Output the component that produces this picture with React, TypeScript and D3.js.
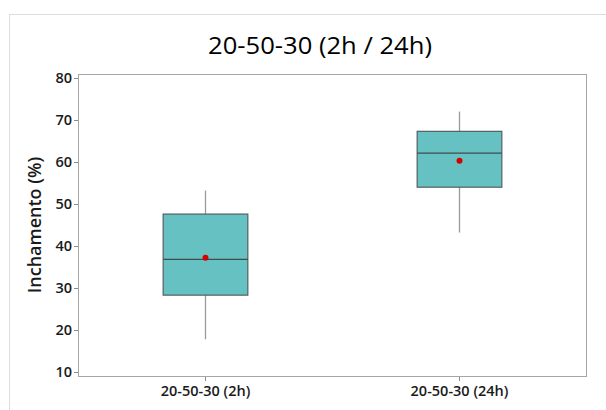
import React from "react";
import * as d3 from "d3";

const categories = ["20-50-30 (2h)", "20-50-30 (24h)"];
const whiskerLow = [17.8, 43.2];
const q1 = [28.3, 54.0];
const median = [36.8, 62.1];
const q3 = [47.6, 67.3];
const whiskerHigh = [53.2, 72.0];
const means = [37.2, 60.3];
const yTicks = [10, 20, 30, 40, 50, 60, 70, 80];

const W = 606;
const H = 410;
const plot = { left: 78, right: 586, top: 74, bottom: 376 };
const font = "'Open Sans', 'Noto Sans', sans-serif";

export default function App() {
  const x = d3
    .scaleBand<string>()
    .domain(categories)
    .range([plot.left, plot.right])
    .paddingInner(0)
    .paddingOuter(0);
  const y = d3
    .scaleLinear()
    .domain([10 - 4 / 4.2, 80 + 4 / 4.2])
    .range([plot.bottom, plot.top]);
  const boxW = x.bandwidth() / 3;

  return (
    <div style={{ position: "fixed", left: 0, top: 0 }}>
      <svg width={W} height={H} style={{ display: "block" }}>
        <rect x={0} y={0} width={W} height={H} fill="#fff" />
        <rect x={9.5} y={14.5} width={W} height={H} fill="none" stroke="#dcdcdc" strokeWidth={1} />
        <text
          x={320}
          y={54}
          textAnchor="middle"
          fontFamily={font}
          fontSize={23.5}
          fontWeight={500}
          fill="#000"
          textLength={224}
          lengthAdjust="spacingAndGlyphs"
        >
          20-50-30 (2h / 24h)
        </text>
        <rect
          x={plot.left + 0.5}
          y={plot.top + 0.5}
          width={plot.right - plot.left}
          height={plot.bottom - plot.top}
          fill="none"
          stroke="#a6a6a6"
          strokeWidth={1}
        />
        {yTicks.map((t) => (
          <g key={t}>
            <line
              x1={plot.left - 4}
              x2={plot.left}
              y1={Math.round(y(t)) + 0.5}
              y2={Math.round(y(t)) + 0.5}
              stroke="#8c8c8c"
            />
            <text
              x={plot.left - 6}
              y={y(t)}
              dy="0.36em"
              textAnchor="end"
              fontFamily={font}
              fontSize={14.5}
              fontWeight={600}
              fill="#1a1a1a"
            >
              {t}
            </text>
          </g>
        ))}
        {categories.map((c, i) => {
          const cx = Math.round(x(c)! + x.bandwidth() / 2) + 0.5;
          return (
            <g key={c}>
              <line x1={cx} x2={cx} y1={plot.bottom + 1} y2={plot.bottom + 5} stroke="#8c8c8c" />
              <text
                x={cx}
                y={396}
                textAnchor="middle"
                fontFamily={font}
                fontSize={14.5}
                fontWeight={600}
                fill="#1a1a1a"
              >
                {c}
              </text>
              <line x1={cx} x2={cx} y1={y(whiskerHigh[i])} y2={y(q3[i])} stroke="#9a9a9a" strokeWidth={1.3} />
              <line x1={cx} x2={cx} y1={y(q1[i])} y2={y(whiskerLow[i])} stroke="#9a9a9a" strokeWidth={1.3} />
              <rect
                x={cx - boxW / 2}
                y={y(q3[i])}
                width={boxW}
                height={y(q1[i]) - y(q3[i])}
                fill="#66c2c2"
                stroke="#525f5f"
                strokeWidth={1.2}
              />
              <line
                x1={cx - boxW / 2}
                x2={cx + boxW / 2}
                y1={y(median[i])}
                y2={y(median[i])}
                stroke="#3f4d4d"
                strokeWidth={1.2}
              />
              <circle cx={cx} cy={y(means[i])} r={3} fill="#d40000" />
            </g>
          );
        })}
        <text
          transform={`translate(41, ${(plot.top + plot.bottom) / 2}) rotate(-90)`}
          textAnchor="middle"
          fontFamily={font}
          fontSize={18}
          fontWeight={600}
          fill="#1a1a1a"
        >
          Inchamento (%)
        </text>
      </svg>
    </div>
  );
}
